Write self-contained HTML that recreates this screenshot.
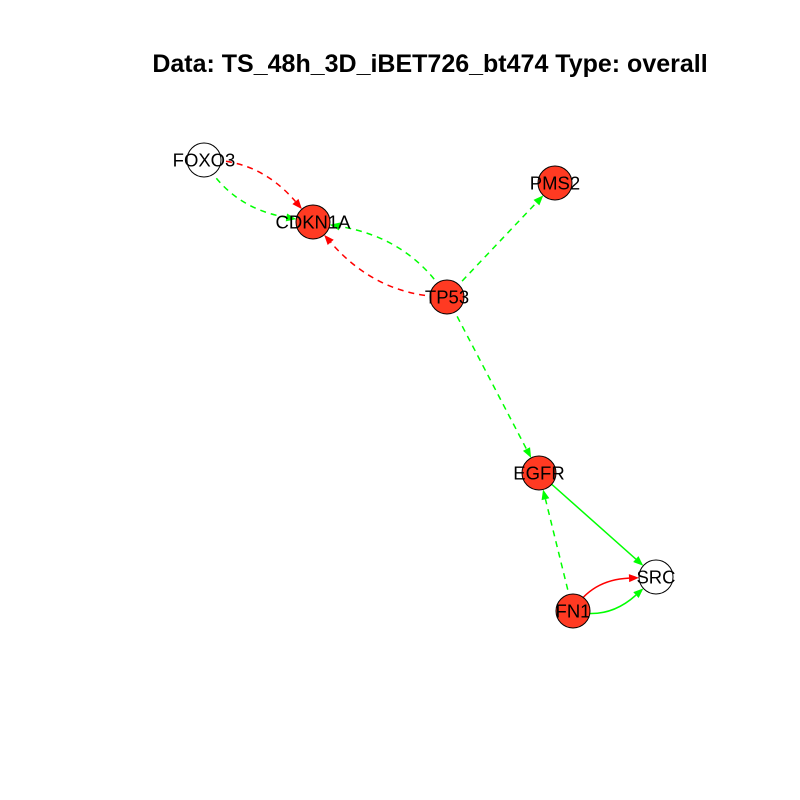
<!DOCTYPE html>
<html><head><meta charset="utf-8"><style>
body{margin:0;background:#fff}
svg{display:block}
text{font-family:"Liberation Sans",Arial,sans-serif}
</style></head><body>
<svg id="g" width="800" height="800">
<text x="430" y="72" text-anchor="middle" font-size="25" font-weight="bold">Data: TS_48h_3D_iBET726_bt474 Type: overall</text>
<g id="edges"></g>
<g id="nodes"></g>
</svg>
<script>
const nodeNames = ["FOXO3","CDKN1A","PMS2","TP53","EGFR","SRC","FN1"];
const nodeX = [204,313,555,447,539,656,573];
const nodeY = [160,222,183,297,473,577,611];
const nodeActive = [0,1,1,1,1,0,1];
const edgeFrom = ["FOXO3","FOXO3","TP53","TP53","TP53","TP53","EGFR","FN1","FN1","FN1"];
const edgeTo   = ["CDKN1A","CDKN1A","CDKN1A","CDKN1A","PMS2","EGFR","SRC","EGFR","SRC","SRC"];
const edgeSign = ["neg","pos","pos","neg","pos","pos","pos","pos","neg","pos"];
const edgeDashed=[1,1,1,1,1,1,0,1,0,0];
const edgeCurve= [0.18,-0.18,-0.18,0.18,0,0,0,0,0.18,-0.18];
const R=17, NS="http://www.w3.org/2000/svg";
const eg=document.getElementById('edges'), ng=document.getElementById('nodes');
function idx(n){return nodeNames.indexOf(n);}
edgeFrom.forEach((f,i)=>{
  const a=idx(f), b=idx(edgeTo[i]);
  const x1=nodeX[a],y1=nodeY[a],x2=nodeX[b],y2=nodeY[b];
  const dx=x2-x1, dy=y2-y1, c=edgeCurve[i];
  const cx=(x1+x2)/2+c*dy, cy=(y1+y2)/2-c*dx;
  let tx=x2-cx, ty=y2-cy; const tl=Math.hypot(tx,ty); tx/=tl; ty/=tl;
  const ex=x2-tx*R, ey=y2-ty*R;
  const bx=ex-tx*10, by=ey-ty*10;
  const col=edgeSign[i]==="neg"?"#ff0000":"#00ff00";
  const p=document.createElementNS(NS,'path');
  p.setAttribute('d',`M${x1},${y1} Q${cx-tx*R},${cy-ty*R} ${bx},${by}`);
  p.setAttribute('fill','none'); p.setAttribute('stroke',col); p.setAttribute('stroke-width','1.5');
  if(edgeDashed[i]) p.setAttribute('stroke-dasharray','6,5');
  
  
  eg.appendChild(p);
  const h=document.createElementNS(NS,'polygon');
  h.setAttribute('points',`${ex},${ey} ${bx-ty*4},${by+tx*4} ${bx+ty*4},${by-tx*4}`);
  h.setAttribute('fill',col);
  
  
  eg.appendChild(h);
});
nodeNames.forEach((n,i)=>{
  const c=document.createElementNS(NS,'circle');
  c.setAttribute('cx',nodeX[i]); c.setAttribute('cy',nodeY[i]); c.setAttribute('r',R);
  c.setAttribute('fill',nodeActive[i]?'#ff3a22':'#ffffff'); c.setAttribute('stroke','#000'); c.setAttribute('stroke-width','1');
  
  
  ng.appendChild(c);
  const t=document.createElementNS(NS,'text');
  t.setAttribute('x',nodeX[i]); t.setAttribute('y',nodeY[i]+6.5); t.setAttribute('text-anchor','middle');
  t.setAttribute('font-size','18.5'); t.textContent=n;
  
  
  ng.appendChild(t);
});
</script>
</body></html>
